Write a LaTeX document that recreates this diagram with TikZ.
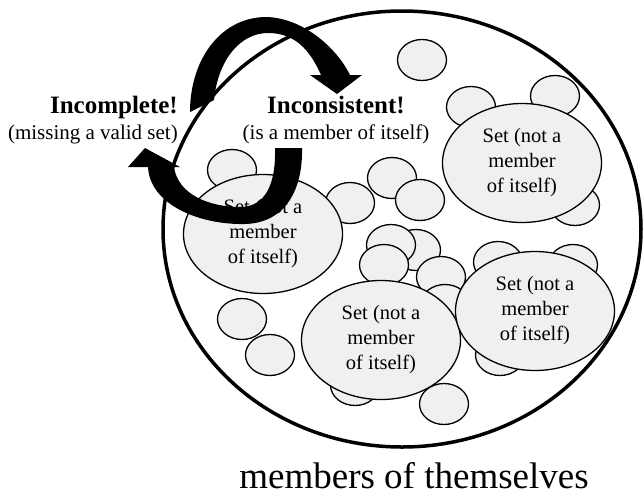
\documentclass[tikz,border=0pt]{standalone}
\usepackage{fontspec}
\setmainfont{Liberation Serif}
\usetikzlibrary{shapes.geometric}
\usetikzlibrary{positioning}
\definecolor{bubblegray}{HTML}{F0F0F0}
\tikzset{universe/.style={ellipse,draw,line width=3.5pt,minimum width=478pt,minimum height=436pt},
         bubble/.style={ellipse,draw,fill=bubblegray,line width=1.3pt,minimum width=49pt,minimum height=41pt,inner sep=0pt},
         setnode/.style={ellipse,draw,fill=bubblegray,line width=1.3pt,minimum width=159pt,minimum height=119pt,
                         inner sep=0pt,align=center,font=\fontsize{20.5}{25}\selectfont},
         headline/.style={font=\fontsize{25}{30}\selectfont\bfseries,inner sep=0pt},
         subline/.style={font=\fontsize{21}{26}\selectfont,inner sep=0pt},
         caption/.style={font=\fontsize{37}{44}\selectfont,inner sep=0pt},
         looparrow/.style={fill=black,draw=none},
         }

\begin{document}
\begin{tikzpicture}[x=1pt,y=-1pt]
\useasboundingbox (0,0) rectangle (643,496);

% the set of all sets that are not members of themselves
\node[universe] (all) at (402,229) {};

% small sets, drawn back to front
\foreach \name/\pos in {c1/{(422,60)},c2/{(232,170)},c3/{(350,203)},c4/{(392,178)},c5/{(420,200)},
                        c7/{(416,250)},c6/{(391,245)},c8/{(384,265)},c9/{(441,277)},c10/{(471,107)},
                        c11/{(555,96)},c12/{(575,205)},c13/{(498,262)},c14/{(573,265)},c15/{(242,319)},
                        c16/{(270,355)},c17/{(355,385)},c18/{(444,404)},c19/{(500,355)},c20/{(445,305)}}
    \node[bubble] (\name) at \pos {};

% the four big ones
\node[setnode] (setA) at (522,163) {Set (not a\\member\\of itself)};
\node[setnode] (setB) at (263,234) {Set (not a\\member\\of itself)};
\node[setnode] (setC) at (381,340) {Set (not a\\member\\of itself)};
\node[setnode] (setD) at (535,311) {Set (not a\\member\\of itself)};

% the two verdicts
\node[headline,anchor=base east] (incomplete) at (178,113) {Incomplete!};
\node[subline,anchor=base east] (missing) at ([yshift=-26pt]incomplete.base east) {(missing a valid set)};
\node[headline,anchor=base] (inconsistent) at (336,113) {Inconsistent!};
\node[subline,anchor=base] (member) at ([yshift=-26pt]inconsistent.base) {(is a member of itself)};

% the loop between them
\fill[looparrow] (190,112) .. controls (190,60) and (220,18) .. (265,17)
    .. controls (300,17) and (335,45) .. (350,75) -- (362,75) -- (337,94) -- (310,75) -- (321,75)
    .. controls (310,50) and (295,33) .. (268,33) .. controls (240,33) and (218,60) .. (214,100) -- cycle;
\fill[looparrow] (302,148) .. controls (303,190) and (285,223) .. (245,224)
    .. controls (200,225) and (150,205) .. (148,167) -- (128,167) -- (145,148) -- (180,167) -- (174,167)
    .. controls (178,195) and (210,207) .. (240,207) .. controls (265,207) and (276,185) .. (275,148) -- cycle;

\node[caption,anchor=base] (label) at (414,488) {members of themselves};
\end{tikzpicture}
\end{document}
